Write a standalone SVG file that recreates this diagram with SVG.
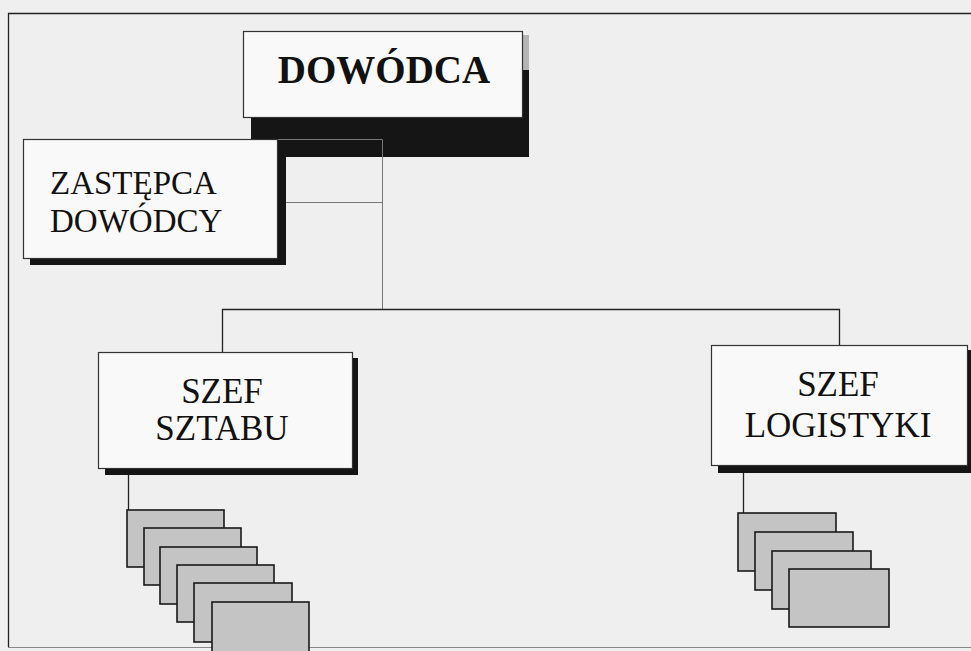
<svg xmlns="http://www.w3.org/2000/svg" width="971" height="651" viewBox="0 0 971 651">
<style>
.box{fill:#f9f9f9;stroke:#333;stroke-width:1.2}
.shadow{fill:#151515}
.sub{fill:#c4c4c4;stroke:#1a1a1a;stroke-width:1.6}
.ln{fill:none;stroke:#222;stroke-width:1.3}
.thin{fill:none;stroke:#777;stroke-width:1}
.t{font-family:"Liberation Serif","Times New Roman",serif;fill:#111}
</style>
<rect x="0" y="0" width="971" height="651" fill="#efefef"/>
<path class="ln" d="M8.5,647 V13.5 H971"/>
<path d="M8,647.5 H971" stroke="#888" stroke-width="1.2" fill="none"/>

<g id="n-dowodca">
<rect x="523" y="35" width="6" height="35" fill="#b5b5b5"/>
<rect class="shadow" x="251" y="70" width="278" height="87"/>
<rect class="box" x="243.5" y="31.5" width="279" height="86"/>
<text class="t" x="384" y="83" font-size="39" font-weight="bold" text-anchor="middle">DOWÓDCA</text>
</g>

<g id="connectors">
<path class="thin" d="M277,139.5 H382.5 V309.5"/>
<path class="thin" d="M285,202.5 H382.5"/>
<path class="ln" d="M222.5,352 V309.5 H839.5 V345"/>
<path class="ln" d="M128.5,475 V510"/>
<path class="ln" d="M743.5,472 V513"/>
</g>

<g id="n-zastepca">
<rect class="shadow" x="30" y="157" width="256" height="108"/>
<rect class="box" x="23.5" y="139.5" width="254" height="119"/>
<text class="t" x="50" y="194" font-size="33">ZASTĘPCA</text>
<text class="t" x="50" y="232" font-size="33">DOWÓDCY</text>
</g>

<g id="n-szef-sztabu">
<rect class="shadow" x="105" y="358" width="253" height="117"/>
<rect class="box" x="98.5" y="352.5" width="254" height="116"/>
<text class="t" x="222" y="403" font-size="35" text-anchor="middle">SZEF</text>
<text class="t" x="222" y="440" font-size="35" text-anchor="middle">SZTABU</text>
</g>

<g id="n-szef-logistyki">
<rect class="shadow" x="718" y="350" width="260" height="123"/>
<rect class="box" x="711.5" y="345.5" width="256" height="120"/>
<text class="t" x="838" y="396" font-size="35" text-anchor="middle">SZEF</text>
<text class="t" x="838" y="437" font-size="35" text-anchor="middle">LOGISTYKI</text>
</g>

<g id="n-sztab-1"><rect class="sub" x="127" y="510" width="97" height="57"/></g>
<g id="n-sztab-2"><rect class="sub" x="144" y="528" width="97" height="57"/></g>
<g id="n-sztab-3"><rect class="sub" x="160" y="547" width="97" height="57"/></g>
<g id="n-sztab-4"><rect class="sub" x="177" y="565" width="97" height="57"/></g>
<g id="n-sztab-5"><rect class="sub" x="194" y="583" width="98" height="59"/></g>
<g id="n-sztab-6"><rect class="sub" x="212" y="602" width="97" height="60"/></g>

<g id="n-log-1"><rect class="sub" x="738" y="513" width="98" height="58"/></g>
<g id="n-log-2"><rect class="sub" x="755" y="532" width="98" height="58"/></g>
<g id="n-log-3"><rect class="sub" x="772" y="551" width="99" height="58"/></g>
<g id="n-log-4"><rect class="sub" x="789" y="569" width="100" height="58"/></g>
</svg>
